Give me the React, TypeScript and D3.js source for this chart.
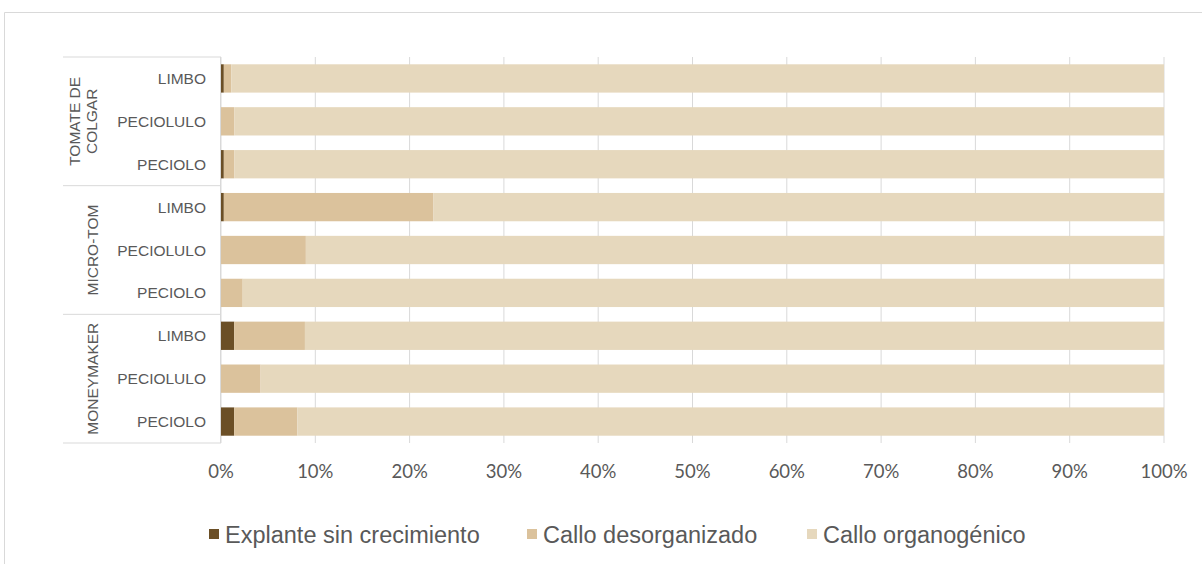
import React from "react";
import * as d3 from "d3";

const groups = ["TOMATE DE COLGAR", "MICRO-TOM", "MONEYMAKER"];
const groupLines = [["TOMATE DE", "COLGAR"], ["MICRO-TOM"], ["MONEYMAKER"]];
const parts = ["LIMBO", "PECIOLULO", "PECIOLO"];
const seriesNames = ["Explante sin crecimiento", "Callo desorganizado", "Callo organogénico"];
// rows ordered: group by group, part by part
const sinCrecimiento = [0.3, 0, 0.3, 0.3, 0, 0, 1.4, 0, 1.4];
const desorganizado = [0.8, 1.4, 1.1, 22.2, 9.0, 2.3, 7.5, 4.2, 6.7];
const organogenico = sinCrecimiento.map((v, i) => 100 - v - desorganizado[i]);
const ticks = [0, 10, 20, 30, 40, 50, 60, 70, 80, 90, 100];
const colors = ["#6b4f26", "#dbc29c", "#e6d8bd"];

export default function App() {
  const W = 1202, H = 564;
  const x = d3.scaleLinear().domain([0, 100]).range([221, 1164]);
  const rows = groups.flatMap((g, gi) => parts.map((p, pi) => ({ g, gi, p, i: gi * 3 + pi })));
  const y = d3.scaleBand().domain(rows.map(r => String(r.i))).range([57, 443]).paddingInner(0.34).paddingOuter(0.17);
  const stackData = rows.map(r => ({
    key: String(r.i),
    a: sinCrecimiento[r.i],
    b: desorganizado[r.i],
    c: organogenico[r.i],
  }));
  const stacked = d3.stack<any>().keys(["a", "b", "c"])(stackData);
  const gridColor = "#d9d9d9";
  const step = (443 - 57) / 9;
  return (
    <svg width={W} height={H} style={{ position: "absolute", left: 0, top: 0, fontFamily: "'Liberation Sans', Arial, sans-serif" }}>
      <rect x={0} y={0} width={W} height={H} fill="#fff" />
      <path d={`M4.5,${H} V12.5 H${W}`} fill="none" stroke={gridColor} strokeWidth={1} />
      {ticks.map(t => (
        <line key={t} x1={x(t)} x2={x(t)} y1={57} y2={443} stroke={gridColor} strokeWidth={1} />
      ))}
      {stacked.map((s, si) => (
        <g key={si} fill={colors[si]}>
          {s.map((d: any, j: number) => (
            <rect key={j} x={x(d[0])} y={y(stackData[j].key)!} width={Math.max(0, x(d[1]) - x(d[0]))} height={y.bandwidth()} />
          ))}
        </g>
      ))}
      {/* category axis */}
      <line x1={220.5} x2={220.5} y1={57} y2={443} stroke={gridColor} />
      {[0, 1, 2, 3].map(k => (
        <line key={k} x1={63} x2={221} y1={57 + k * 3 * step} y2={57 + k * 3 * step} stroke={gridColor} />
      ))}
      {rows.map(r => (
        <text key={r.i} x={206} y={y(String(r.i))! + y.bandwidth() / 2} textAnchor="end" dominantBaseline="central" fontSize={15.5} fill="#595959">{r.p}</text>
      ))}
      {groupLines.map((lines, gi) => {
        const cy = 57 + (gi * 3 + 1.5) * step;
        const cx = lines.length === 2 ? 82.5 : 92;
        return (
          <text key={gi} transform={`translate(${cx},${cy}) rotate(-90)`} textAnchor="middle" fontSize={15.5} fill="#595959">
            {lines.map((l, li) => (
              <tspan key={li} x={0} y={(li - (lines.length - 1) / 2) * 17} dominantBaseline="central">{l}</tspan>
            ))}
          </text>
        );
      })}
      {ticks.map(t => (
        <text key={t} x={x(t)} y={471} textAnchor="middle" dominantBaseline="central" fontSize={18.5} fill="#595959" fontFamily="Lato, 'Liberation Sans', sans-serif">{t}%</text>
      ))}
      {seriesNames.map((n, i) => {
        const lx = [209, 527, 807][i];
        return (
          <g key={n}>
            <rect x={lx} y={529} width={10} height={10} fill={colors[i]} />
            <text x={lx + 16} y={535} dominantBaseline="central" fontSize={23.5} fill="#595959">{n}</text>
          </g>
        );
      })}
    </svg>
  );
}
